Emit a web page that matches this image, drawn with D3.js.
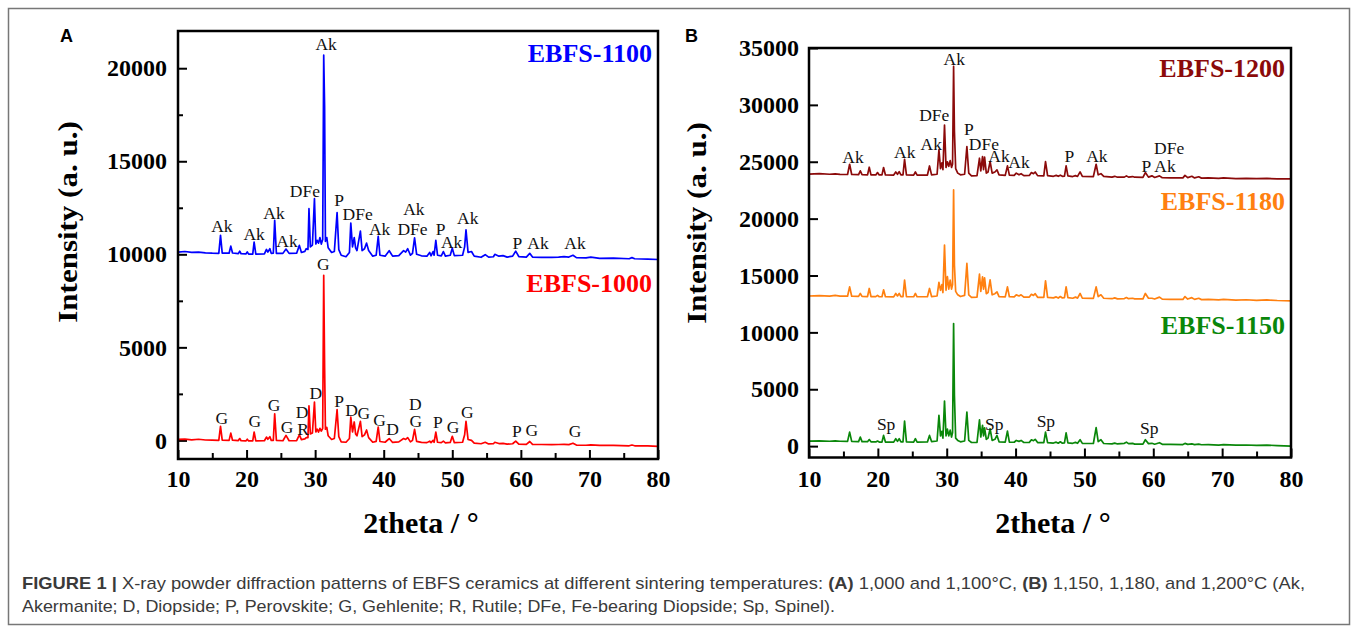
<!DOCTYPE html>
<html>
<head>
<meta charset="utf-8">
<script src="https://cdn.jsdelivr.net/npm/d3@7"></script>
<style>
body { margin: 0; background: #fff; }
svg text { font-family: "Liberation Serif", "Times New Roman", serif; }
svg text.sans { font-family: "Liberation Sans", Arial, sans-serif; }
</style>
</head>
<body>
<svg width="1357" height="631"></svg>
<script>
// ---- panel A : 2theta grid shared by both patterns ----
var thetaA = [10, 11, 12, 13, 14, 15, 15.95, 16.2, 16.45, 17.45, 17.7, 17.95, 18.8, 19.0, 19.2, 19.9, 20.1, 20.3, 20.9, 21.1,
  21.35, 22.6, 22.9, 23.1, 23.4, 23.6, 23.9, 24.1, 24.35, 25.3, 25.75, 26.2, 27.3, 27.7, 28.0, 28.5, 28.7, 28.95, 29.1, 29.3,
  29.6, 29.9, 30.1, 30.3, 30.5, 30.7, 30.9, 31.1, 31.25, 31.38, 31.5, 31.7, 31.9, 32.4, 32.8, 33.2, 33.45, 33.8, 34.5, 35.0,
  35.2, 35.45, 35.7, 35.9, 36.1, 36.6, 36.85, 37.2, 37.5, 37.8, 38.4, 38.9, 39.2, 39.45, 40.2, 40.8, 41.3, 42.2, 42.9, 43.2,
  43.5, 43.9, 44.2, 44.5, 44.8, 45.5, 46.3, 46.7, 46.9, 47.2, 47.35, 47.6, 47.85, 48.4, 48.7, 49.0, 49.7, 50.0, 50.3, 51.5,
  51.8, 52.0, 52.3, 52.8, 53.2, 54.2, 54.8, 55.3, 56.0, 56.2, 56.8, 57.4, 58.0, 58.8, 59.25, 59.7, 60.8, 61.3, 61.7, 63,
  64.5, 65.5, 66.3, 67.0, 67.6, 68.1, 69.5, 70.2, 71.5, 73.5, 75.8, 76.2, 76.6, 78.5, 80];

var ebfs1100 = [10120, 10150, 10100, 10120, 10080, 10060, 10050, 11020, 10060, 10060, 10440, 10070, 10040, 10170, 10030, 10020, 10130, 10010, 10010, 10660,
  10010, 10020, 10260, 10120, 10300, 10050, 10060, 11830, 10050, 10050, 10280, 10050, 10060, 10480, 10100, 10160, 10300, 10260, 12450, 10400,
  10500, 12990, 10550, 10750, 10600, 10900, 10550, 10800, 20700, 17900, 10700, 10900, 10350, 10100, 10150, 12240, 10250, 9950, 9870, 10100,
  11680, 10400, 10900, 10350, 10200, 11250, 10200, 10300, 10600, 10200, 9900, 9950, 10960, 9950, 9900, 10190, 9900, 9930, 10200, 10120,
  10300, 9950, 10050, 10890, 10000, 9920, 9900, 10100, 9920, 10150, 9950, 10750, 9950, 9920, 10150, 9900, 9950, 10330, 9930, 9950,
  10400, 11320, 10100, 10150, 9900, 9840, 9980, 9850, 9870, 10000, 9900, 9930, 9850, 9900, 10170, 9880, 9850, 10050, 9850, 9840,
  9830, 9850, 9880, 9850, 9950, 9820, 9810, 9850, 9780, 9790, 9760, 9820, 9760, 9740, 9720];

var ebfs1000 = [50, 70, 30, 60, 20, 10, 0, 750, 10, 0, 390, 10, -10, 100, -20, -30, 60, -30, -30, 450,
  -30, -20, 180, 60, 200, 0, 0, 1430, 0, -20, 270, -20, -10, 300, 40, 80, 150, 150, 1850, 350,
  400, 2060, 450, 600, 450, 650, 500, 650, 8870, 3940, 600, 700, 250, 50, 100, 1650, 200, -80, -100, 100,
  1250, 450, 990, 350, 250, 1020, 200, 300, 560, 150, -100, -50, 720, -60, -100, 100, -110, -80, 100, 50,
  150, -80, 0, 590, -50, -110, -120, -40, -120, 0, -100, 450, -100, -120, -40, -130, -110, 220, -120, -100,
  300, 1020, 50, 0, -150, -180, -100, -190, -180, -100, -170, -160, -200, -180, -40, -200, -210, -60, -210, -220,
  -230, -220, -210, -230, -150, -250, -260, -240, -270, -270, -290, -250, -290, -300, -320];

// ---- panel B : 2theta grid shared by the three patterns ----
var thetaB = [10, 11.5, 13, 13.8, 14.5, 15.6, 15.9, 16.2, 17.2, 17.45, 17.7, 18.5, 18.75, 19.0, 19.7, 19.95, 20.2, 20.6, 20.83, 21.1,
  22.3, 22.6, 22.85, 23.1, 23.35, 23.65, 23.88, 24.15, 25.2, 25.45, 25.7, 27.2, 27.5, 27.8, 28.6, 28.87, 29.1, 29.3, 29.45, 29.68,
  29.9, 30.1, 30.3, 30.5, 30.7, 30.85, 31.0, 31.12, 31.3, 31.6, 32.0, 32.6, 32.93, 33.2, 33.6, 34.4, 34.76, 34.95, 35.2, 35.35,
  35.5, 35.75, 36.0, 36.3, 36.6, 37.0, 37.3, 37.6, 38.5, 38.82, 39.1, 39.8, 40.1, 40.5, 40.8, 41.2, 42.0, 42.3, 42.6, 42.85,
  43.2, 44.1, 44.35, 44.65, 45.5, 45.9, 46.2, 46.5, 46.8, 47.1, 47.34, 47.6, 48.3, 48.7, 49.0, 49.37, 49.7, 51.3, 51.7, 52.0,
  52.4, 52.8, 54.0, 54.4, 54.8, 55.8, 56.1, 56.4, 57.0, 57.3, 58.5, 58.85, 59.3, 59.8, 60.2, 60.9, 61.3, 62.5, 64.3, 64.6,
  65.0, 65.6, 66.0, 66.6, 67.0, 68.0, 69.5, 70.2, 72.0, 73.5, 75.0, 76.5, 78.0, 80];

var ebfs1200 = [23920, 23950, 23900, 23940, 23890, 23880, 24780, 23880, 23860, 24200, 23860, 23850, 24520, 23850, 23840, 24050, 23840, 23840, 24490, 23840,
  23830, 24100, 23900, 24130, 23850, 23840, 25220, 23840, 23830, 24100, 23830, 23830, 24630, 23850, 23900, 26040, 24400, 24900, 24300, 28220,
  24500, 25000, 24600, 25100, 24500, 24800, 33380, 27650, 24400, 24000, 23850, 23900, 26340, 24000, 23760, 23780, 25310, 24200, 25460, 24300,
  25400, 24000, 24100, 25020, 24000, 24100, 24280, 23850, 23800, 24640, 23820, 23800, 24000, 23850, 23950, 23780, 23800, 24050, 23950, 24100,
  23780, 23760, 25020, 23780, 23720, 23800, 23720, 23820, 23720, 23740, 24640, 23760, 23700, 23780, 23710, 24110, 23710, 23700, 24780, 23850,
  23950, 23720, 23650, 23720, 23640, 23650, 23760, 23650, 23700, 23640, 23620, 24050, 23650, 23760, 23620, 23760, 23600, 23590, 23580, 23800,
  23600, 23720, 23580, 23680, 23560, 23580, 23540, 23580, 23520, 23540, 23510, 23530, 23500, 23490];

var ebfs1180 = [13200, 13230, 13190, 13250, 13190, 13180, 14000, 13180, 13170, 13420, 13160, 13150, 13860, 13150, 13140, 13250, 13130, 13130, 13740, 13130,
  13120, 13420, 13200, 13420, 13150, 13140, 14590, 13140, 13130, 13420, 13130, 13130, 13860, 13150, 13200, 14390, 13700, 14200, 13500, 17670,
  13700, 14900, 13800, 14600, 13800, 14200, 22520, 15900, 13600, 13300, 13150, 13250, 16060, 13300, 13080, 13100, 15120, 13600, 14880, 13800,
  14800, 13400, 13500, 14620, 13300, 13400, 13560, 13150, 13120, 14000, 13130, 13120, 13300, 13200, 13300, 13100, 13100, 13350, 13250, 13400,
  13080, 13070, 14530, 13080, 13030, 13120, 13020, 13150, 13020, 13050, 14000, 13050, 13000, 13100, 13010, 13420, 13000, 12990, 14000, 13150,
  13300, 13000, 12960, 13030, 12950, 12970, 13060, 12960, 13000, 12950, 12950, 13420, 13000, 13000, 12930, 13100, 12920, 12900, 12900, 13150,
  12930, 13050, 12900, 13000, 12880, 12900, 12860, 12900, 12840, 12870, 12820, 12850, 12800, 12770];

var ebfs1150 = [440, 460, 430, 470, 430, 420, 1230, 420, 400, 790, 400, 390, 580, 380, 370, 450, 360, 360, 940, 360,
  350, 650, 420, 650, 380, 370, 2200, 370, 360, 650, 360, 370, 940, 400, 450, 2700, 900, 1300, 700, 3960,
  900, 1500, 900, 1400, 800, 1200, 10780, 4460, 700, 500, 380, 450, 3000, 500, 320, 330, 2320, 800, 1820, 900,
  1600, 600, 700, 1530, 500, 600, 940, 380, 350, 1320, 350, 340, 500, 420, 500, 320, 330, 560, 480, 600,
  310, 300, 1230, 310, 270, 350, 260, 380, 260, 280, 1170, 290, 250, 330, 250, 560, 240, 230, 1620, 400,
  560, 230, 200, 260, 190, 250, 350, 220, 240, 180, 180, 560, 220, 250, 170, 300, 160, 150, 140, 240,
  150, 200, 130, 180, 120, 130, 90, 130, 80, 100, 60, 90, 40, 0];

var xTicks = [10, 20, 30, 40, 50, 60, 70, 80];
var yTicksA = [0, 5000, 10000, 15000, 20000];
var yTicksB = [0, 5000, 10000, 15000, 20000, 25000, 30000, 35000];

// phase labels: [text, 2theta, intensity of the text baseline]
var peaks1100 = [["Ak", 16.4, 11200], ["Ak", 21.1, 10750], ["Ak", 24.0, 11920], ["Ak", 25.9, 10390], ["DFe", 28.5, 13080],
  ["Ak", 31.6, 21000], ["P", 33.5, 12600], ["DFe", 36.2, 11830], ["Ak", 39.4, 11020], ["Ak", 44.4, 12130],
  ["DFe", 44.2, 11020], ["P", 48.3, 11020], ["Ak", 49.9, 10340], ["Ak", 52.25, 11610], ["P", 59.5, 10270],
  ["Ak", 62.5, 10270], ["Ak", 67.9, 10270]];
var peaks1000 = [["G", 31.2, 9140], ["G", 16.4, 860], ["G", 21.2, 715], ["G", 24.0, 1560], ["G", 25.9, 390],
  ["R", 28.25, 300], ["D", 28.1, 1230], ["D", 30.1, 2240], ["P", 33.5, 1790], ["D", 35.3, 1310], ["G", 37.1, 1170],
  ["G", 39.4, 770], ["D", 41.3, 310], ["D", 44.6, 1610], ["G", 44.7, 715], ["P", 47.9, 660], ["G", 50.1, 390],
  ["G", 52.2, 1200], ["P", 59.4, 180], ["G", 61.6, 230], ["G", 67.9, 180]];
var peaks1200 = [["Ak", 16.4, 24870], ["Ak", 23.9, 25310], ["Ak", 27.75, 26040], ["DFe", 28.2, 28540], ["Ak", 31.1, 33470],
  ["P", 33.2, 27350], ["DFe", 35.4, 26050], ["Ak", 37.6, 24950], ["Ak", 40.5, 24430], ["P", 47.8, 25010],
  ["Ak", 51.8, 25010], ["P", 59.0, 24130], ["Ak", 61.7, 24130], ["DFe", 62.3, 25700]];
var peaks1150 = [["Sp", 21.2, 1380], ["Sp", 36.9, 1440], ["Sp", 44.4, 1670], ["Sp", 59.4, 1090]];

var svg = d3.select("svg");

svg.append("rect").attr("x", 8.5).attr("y", 8.5).attr("width", 1341).attr("height", 616)
  .attr("fill", "none").attr("stroke", "#777").attr("stroke-width", 1.5);

function drawPanel(p) {
  var x = d3.scaleLinear().domain([10, 80]).range(p.xr);
  var y = d3.scaleLinear().domain(p.yd).range(p.yr);
  var g = svg.append("g");

  // minor ticks first, then major
  var minorX = d3.range(15, 80, 10);
  var minorY = y.ticks(50).filter(function(v) { return v % 5000 === 2500; });

  g.append("g").attr("transform", "translate(0," + p.yr[0] + ")")
    .call(d3.axisBottom(x).tickValues(minorX).tickSize(-6).tickFormat(""));
  g.append("g").attr("transform", "translate(0," + p.yr[0] + ")")
    .call(d3.axisBottom(x).tickValues(xTicks).tickSize(-9).tickPadding(p.xpad).tickFormat(d3.format("d")));
  g.append("g").attr("transform", "translate(" + p.xr[0] + ",0)")
    .call(d3.axisLeft(y).tickValues(minorY).tickSize(-5).tickFormat(""));
  g.append("g").attr("transform", "translate(" + p.xr[0] + ",0)")
    .call(d3.axisLeft(y).tickValues(p.yt).tickSize(-9).tickPadding(p.ypad).tickFormat(d3.format("d")));

  g.selectAll(".domain").remove();
  g.selectAll(".tick line").attr("stroke", "#000").attr("stroke-width", 2);
  g.selectAll(".tick text").attr("font-weight", "bold").attr("font-size", 24).attr("fill", "#000");

  // patterns
  p.series.forEach(function(s) {
    var line = d3.line()
      .x(function(d, i) { return x(p.theta[i]); })
      .y(function(d) { return y(d); });
    g.append("path").datum(s.values).attr("d", line)
      .attr("fill", "none").attr("stroke", s.color).attr("stroke-width", 1.7)
      .attr("stroke-linejoin", "round");
    g.append("text").attr("x", p.xr[1] - 6).attr("y", s.ly)
      .attr("text-anchor", "end").attr("font-weight", "bold").attr("font-size", 26)
      .attr("fill", s.color).text(s.name);
  });

  // phase labels
  p.peaks.forEach(function(d) {
    g.append("text").attr("x", x(d[1])).attr("y", y(d[2]))
      .attr("text-anchor", "middle").attr("font-size", 17.5).attr("fill", "#111").text(d[0]);
  });

  // frame
  g.append("rect").attr("x", p.xr[0]).attr("y", p.yr[1])
    .attr("width", p.xr[1] - p.xr[0]).attr("height", p.yr[0] - p.yr[1])
    .attr("fill", "none").attr("stroke", "#000").attr("stroke-width", 2.5);

  // axis titles
  g.append("text").attr("transform", "translate(" + p.ytx + "," + p.yty + ") scale(0.86,1) rotate(-90)")
    .attr("text-anchor", "middle").attr("font-weight", "bold").attr("font-size", 31).text("Intensity (a. u.)");
  g.append("text").attr("x", (p.xr[0] + p.xr[1]) / 2 + 3).attr("y", 533)
    .attr("text-anchor", "middle").attr("font-weight", "bold").attr("font-size", 30).text("2theta / \u00b0");

  svg.append("text").attr("class", "sans").attr("x", p.letterX).attr("y", 42)
    .attr("font-weight", "bold").attr("font-size", 18).text(p.letter);
}

drawPanel({
  letter: "A", letterX: 60,
  xr: [178, 658], yd: [-1000, 22000], yr: [459, 31], yt: yTicksA,
  xpad: 11, ypad: 11, ytx: 77, yty: 222,
  theta: thetaA,
  series: [
    { name: "EBFS-1100", values: ebfs1100, color: "#0000ff", ly: 62 },
    { name: "EBFS-1000", values: ebfs1000, color: "#ff0000", ly: 292 }
  ],
  peaks: peaks1100.concat(peaks1000)
});

drawPanel({
  letter: "B", letterX: 685,
  xr: [809, 1291], yd: [-1000, 35000], yr: [457.5, 48], yt: yTicksB,
  xpad: 12, ypad: 10, ytx: 706, yty: 223,
  theta: thetaB,
  series: [
    { name: "EBFS-1200", values: ebfs1200, color: "#8b0a0a", ly: 77 },
    { name: "EBFS-1180", values: ebfs1180, color: "#ff8010", ly: 210 },
    { name: "EBFS-1150", values: ebfs1150, color: "#0a870a", ly: 334 }
  ],
  peaks: peaks1200.concat(peaks1150)
});

// caption, stretched to the width of the printed lines
var cap = svg.append("g").attr("font-size", 17).attr("fill", "#3a3a3a");
var l1 = cap.append("text").attr("class", "sans").attr("x", 22).attr("y", 589)
  .attr("textLength", 1283).attr("lengthAdjust", "spacingAndGlyphs");
l1.append("tspan").attr("font-weight", "bold").text("FIGURE 1 | ");
l1.append("tspan").text("X-ray powder diffraction patterns of EBFS ceramics at different sintering temperatures: ");
l1.append("tspan").attr("font-weight", "bold").text("(A)");
l1.append("tspan").text(" 1,000 and 1,100\u00b0C, ");
l1.append("tspan").attr("font-weight", "bold").text("(B)");
l1.append("tspan").text(" 1,150, 1,180, and 1,200\u00b0C (Ak,");
cap.append("text").attr("class", "sans").attr("x", 22).attr("y", 612)
  .attr("textLength", 813).attr("lengthAdjust", "spacingAndGlyphs")
  .text("Akermanite; D, Diopside; P, Perovskite; G, Gehlenite; R, Rutile; DFe, Fe-bearing Diopside; Sp, Spinel).");
</script>
</body>
</html>
